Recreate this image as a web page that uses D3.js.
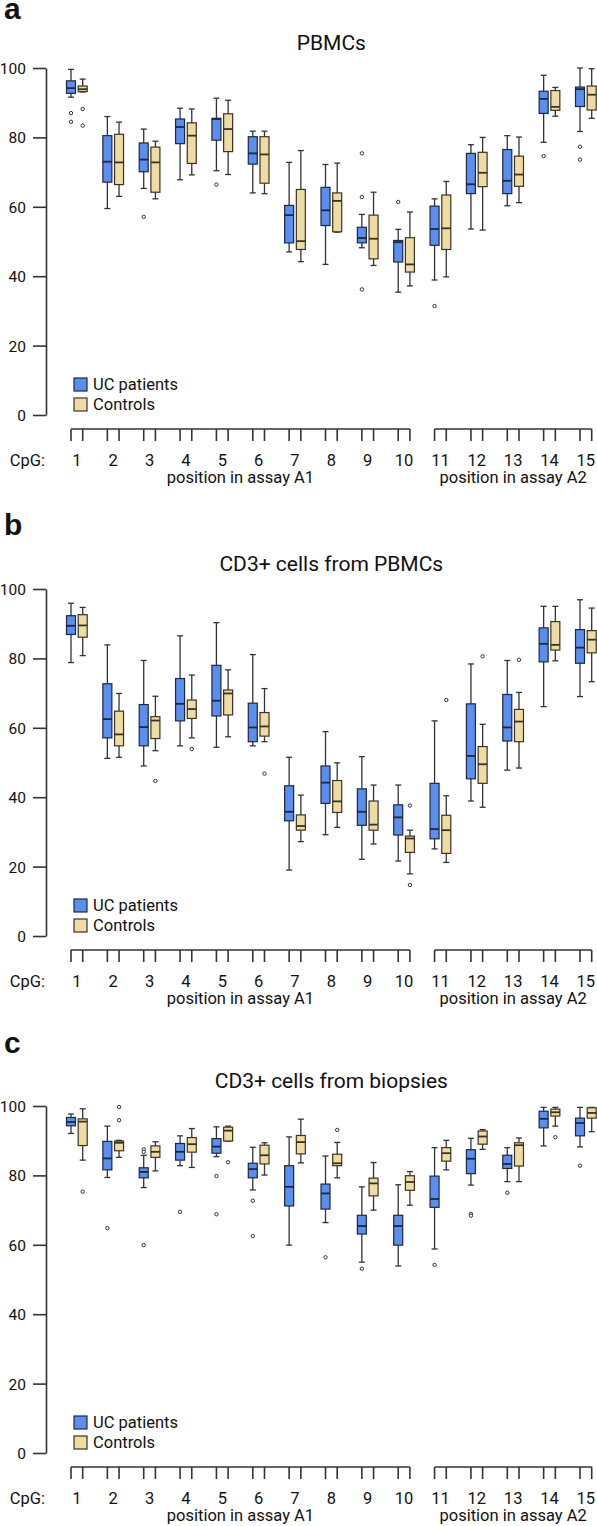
<!DOCTYPE html>
<html>
<head>
<meta charset="utf-8">
<script src="https://cdn.jsdelivr.net/npm/d3@7"></script>
<style>
  html, body { margin: 0; padding: 0; background: #fff; }
  svg { display: block; }
  text { font-family: Roboto, "Noto Sans", sans-serif; fill: #111; }
</style>
</head>
<body>
<div id="chart"></div>
<script>
// ---------- data ----------
const cpgLabels = ["1","2","3","4","5","6","7","8","9","10","11","12","13","14","15"];
const panelLetters = ["a", "b", "c"];
const panelTitles = ["PBMCs", "CD3+ cells from PBMCs", "CD3+ cells from biopsies"];
const groupNames = ["UC patients", "Controls"];
const yTicks = [0, 20, 40, 60, 80, 100];
const assayLabels = ["position in assay A1", "position in assay A2"];

// each entry: [whisker low, Q1, median, Q3, whisker high]
const aUC = [
  [91.6, 92.7, 94.2, 96.3, 99.6], [59.5, 67.1, 73.0, 80.5, 86.0], [65.3, 70.1, 73.6, 78.4, 82.4],
  [67.8, 78.2, 83.0, 85.3, 88.4], [70.4, 79.2, 85.3, 85.5, 91.3], [64.0, 72.3, 75.4, 80.2, 81.8],
  [47.0, 49.6, 57.6, 60.4, 72.8], [43.4, 54.6, 59.0, 65.6, 72.2], [48.2, 49.6, 51.0, 54.1, 57.8],
  [35.4, 44.1, 49.8, 50.3, 53.5], [38.9, 48.9, 53.6, 60.2, 62.3], [53.6, 63.8, 66.5, 75.4, 77.9],
  [60.3, 63.8, 67.5, 76.5, 80.5], [78.6, 86.9, 91.1, 93.3, 97.9], [81.7, 88.9, 93.9, 94.5, 100.0]
];
const aCtrl = [
  [93.1, 93.2, 93.9, 94.8, 96.8], [63.0, 66.4, 72.8, 80.9, 84.4], [62.3, 64.2, 72.8, 77.2, 78.9],
  [69.2, 72.5, 80.5, 84.2, 88.2], [69.3, 75.9, 82.4, 86.8, 90.7], [63.8, 66.8, 75.1, 80.2, 81.8],
  [44.2, 47.7, 50.1, 65.0, 76.2], [52.7, 52.8, 61.7, 64.0, 72.6], [43.1, 45.0, 50.8, 57.6, 64.2],
  [37.2, 41.2, 43.4, 51.1, 58.5], [39.8, 47.7, 53.8, 63.4, 67.3], [53.3, 65.8, 69.8, 75.7, 80.0],
  [61.2, 65.9, 69.3, 74.6, 80.1], [86.1, 87.8, 88.8, 93.5, 94.4], [85.5, 87.9, 92.3, 94.8, 99.8]
];
// outliers: [CpG number, value]
const aUCOut = [[1, 87.0], [1, 84.5], [3, 57.1], [5, 66.4], [9, 75.4], [9, 62.8], [9, 36.2],
  [10, 61.4], [11, 31.4], [14, 74.6], [15, 77.3], [15, 73.6]];
const aCtrlOut = [[1, 88.2], [1, 83.4]];

const bUC = [
  [78.8, 86.9, 89.4, 92.3, 95.9], [51.2, 57.1, 62.5, 72.7, 83.9], [49.0, 54.8, 60.2, 66.7, 79.4],
  [54.8, 62.0, 66.9, 74.2, 86.5], [54.4, 63.4, 67.8, 78.0, 90.3], [54.8, 56.0, 60.1, 67.1, 81.1],
  [19.0, 33.2, 35.8, 43.3, 51.5], [29.2, 38.2, 44.2, 49.0, 58.9], [22.1, 31.9, 35.8, 42.4, 51.7],
  [21.6, 29.1, 34.2, 37.8, 43.5], [25.1, 28.0, 30.8, 44.0, 62.0], [38.9, 45.3, 51.9, 66.9, 78.4],
  [47.8, 56.2, 60.1, 69.6, 79.4], [66.1, 79.0, 84.2, 88.8, 95.0], [69.0, 78.6, 83.1, 88.3, 96.9]
];
const bCtrl = [
  [80.8, 86.1, 89.5, 92.6, 94.7], [51.5, 54.8, 58.1, 64.8, 69.9], [53.4, 56.9, 62.1, 63.2, 69.1],
  [57.1, 62.7, 65.4, 68.0, 75.2], [57.4, 63.7, 69.9, 70.9, 76.7], [56.0, 57.6, 60.4, 64.4, 71.3],
  [27.2, 30.5, 31.7, 34.9, 40.6], [31.3, 35.6, 38.8, 44.8, 49.9], [26.5, 30.5, 32.1, 38.9, 43.5],
  [17.9, 24.1, 28.1, 28.8, 30.5], [21.2, 23.8, 30.5, 34.8, 40.4], [37.1, 44.0, 49.5, 54.6, 61.0],
  [48.4, 56.0, 61.8, 65.3, 70.2], [79.3, 82.4, 83.9, 90.6, 95.0], [73.3, 81.6, 85.4, 88.0, 94.5]
];
const bUCOut = [];
const bCtrlOut = [[3, 44.7], [4, 53.9], [6, 46.8], [10, 37.6], [10, 14.7], [11, 68.0], [12, 80.6], [13, 79.6]];

const cUC = [
  [92.1, 94.3, 95.4, 96.7, 97.7], [79.4, 81.6, 84.9, 89.8, 94.2], [76.5, 79.3, 81.0, 82.2, 85.8],
  [82.8, 84.4, 86.8, 89.2, 91.4], [85.4, 86.4, 88.3, 90.6, 94.0], [75.8, 79.3, 81.8, 83.5, 88.1],
  [59.9, 71.2, 76.7, 82.8, 91.1], [66.4, 70.3, 74.8, 77.5, 85.6], [55.0, 63.1, 65.4, 68.5, 76.7],
  [53.9, 59.9, 65.4, 68.5, 77.3], [58.8, 70.8, 73.2, 79.8, 88.0], [77.2, 80.5, 84.8, 87.4, 90.7],
  [78.2, 82.0, 83.3, 85.8, 88.0], [88.5, 93.7, 96.3, 98.5, 99.6], [88.2, 91.4, 95.1, 96.5, 99.6]
];
const cCtrl = [
  [84.4, 88.6, 95.5, 96.3, 99.2], [85.2, 87.1, 89.4, 89.9, 90.1], [81.3, 85.2, 86.8, 88.5, 89.7],
  [82.3, 86.7, 89.0, 90.9, 93.5], [89.9, 89.9, 92.9, 93.9, 94.2], [80.1, 83.3, 85.8, 88.7, 89.4],
  [83.6, 86.2, 89.6, 91.5, 96.2], [79.3, 82.8, 83.5, 86.1, 89.5], [70.0, 74.1, 77.7, 79.2, 83.7],
  [71.4, 75.7, 78.1, 79.9, 81.1], [81.6, 84.1, 86.4, 88.0, 90.1], [87.5, 89.0, 91.2, 92.8, 93.2],
  [78.2, 82.7, 88.7, 89.4, 90.8], [94.2, 97.1, 98.2, 99.1, 99.6], [92.6, 96.5, 98.0, 99.5, 99.6]
];
const cUCOut = [[2, 64.8], [3, 87.5], [3, 86.8], [3, 59.9], [4, 69.5], [5, 79.8], [5, 68.8],
  [6, 72.7], [6, 62.5], [8, 56.4], [9, 53.1], [11, 54.2], [12, 68.9], [12, 68.4], [13, 75.0], [15, 82.8]];
const cCtrlOut = [[1, 75.3], [2, 99.7], [2, 95.9], [5, 83.8], [8, 93.1], [14, 91.0]];

const panels = [
  { uc: aUC, ctrl: aCtrl, ucOut: aUCOut, ctrlOut: aCtrlOut },
  { uc: bUC, ctrl: bCtrl, ucOut: bUCOut, ctrlOut: bCtrlOut },
  { uc: cUC, ctrl: cCtrl, ucOut: cUCOut, ctrlOut: cCtrlOut }
];

// ---------- layout ----------
const W = 597, H = 1526;
const panelTop = [68, 589, 1106];      // pixel y of value 100
const panelHeight = 347;               // 100 -> 0
const letterY = [19, 535, 1053];
const axisX = 46;
const pairOffset = 11.7;
const boxW = 9;
const capW = 6;
const colors = {
  uc: { fill: "#5b8eef", stroke: "#1c2740" },
  ctrl: { fill: "#eedca4", stroke: "#3a3322" }
};
const axisColor = "#333";
const labelSize = 16.5;

const x = d3.scaleLinear().domain([1, 15]).range([71, 580]);

const svg = d3.select("#chart").append("svg")
  .attr("width", W).attr("height", H);

panels.forEach((p, pi) => {
  const top = panelTop[pi];
  const y0 = top + panelHeight;
  const y = d3.scaleLinear().domain([0, 100]).range([y0, top]);
  const g = svg.append("g");

  // panel letter
  g.append("text").attr("x", 4).attr("y", letterY[pi])
    .attr("font-size", 30).attr("font-weight", "bold")
    .style("font-family", "'Liberation Sans', Arial, sans-serif")
    .text(panelLetters[pi]);

  // title
  g.append("text").attr("x", (x(1) + x(15) + pairOffset) / 2).attr("y", top - 18)
    .attr("text-anchor", "middle").attr("font-size", 21)
    .text(panelTitles[pi]);

  // y axis
  const yAxis = d3.axisLeft(y).tickValues(yTicks).tickSize(13).tickSizeOuter(0).tickPadding(7);
  const ya = g.append("g").attr("transform", `translate(${axisX},0)`).call(yAxis);
  ya.select(".domain").attr("stroke", axisColor).attr("stroke-width", 1.6);
  ya.selectAll(".tick line").attr("stroke", axisColor).attr("stroke-width", 1.6);
  ya.selectAll(".tick text").attr("font-size", 15.5).attr("fill", "#111")
    .style("font-family", "Roboto, sans-serif").attr("dy", "0.35em");

  // boxes
  const groups = [
    { data: p.uc, out: p.ucOut, off: 0, col: colors.uc },
    { data: p.ctrl, out: p.ctrlOut, off: pairOffset, col: colors.ctrl }
  ];
  groups.forEach(gr => {
    gr.data.forEach((d, i) => {
      const cx = x(i + 1) + gr.off;
      const [lo, q1, med, q3, hi] = d;
      const bg = g.append("g");
      // whiskers
      bg.append("line").attr("x1", cx).attr("x2", cx).attr("y1", y(hi)).attr("y2", y(q3))
        .attr("stroke", axisColor).attr("stroke-width", 1.3);
      bg.append("line").attr("x1", cx).attr("x2", cx).attr("y1", y(q1)).attr("y2", y(lo))
        .attr("stroke", axisColor).attr("stroke-width", 1.3);
      bg.append("line").attr("x1", cx - capW / 2).attr("x2", cx + capW / 2).attr("y1", y(hi)).attr("y2", y(hi))
        .attr("stroke", axisColor).attr("stroke-width", 1.3);
      bg.append("line").attr("x1", cx - capW / 2).attr("x2", cx + capW / 2).attr("y1", y(lo)).attr("y2", y(lo))
        .attr("stroke", axisColor).attr("stroke-width", 1.3);
      // box
      bg.append("rect").attr("x", cx - boxW / 2).attr("width", boxW)
        .attr("y", y(q3)).attr("height", Math.max(0.5, y(q1) - y(q3)))
        .attr("fill", gr.col.fill).attr("stroke", gr.col.stroke).attr("stroke-width", 1.2);
      // median
      bg.append("line").attr("x1", cx - boxW / 2).attr("x2", cx + boxW / 2).attr("y1", y(med)).attr("y2", y(med))
        .attr("stroke", gr.col.stroke).attr("stroke-width", 1.8);
    });
    gr.out.forEach(o => {
      g.append("circle").attr("cx", x(o[0]) + gr.off).attr("cy", y(o[1])).attr("r", 1.7)
        .attr("fill", "#fff").attr("stroke", axisColor).attr("stroke-width", 1);
    });
  });

  // legend
  const leg = [{ name: groupNames[0], col: colors.uc, dy: -37 }, { name: groupNames[1], col: colors.ctrl, dy: -17 }];
  leg.forEach(l => {
    g.append("rect").attr("x", 74).attr("y", y0 + l.dy).attr("width", 13).attr("height", 13)
      .attr("fill", l.col.fill).attr("stroke", l.col.stroke).attr("stroke-width", 1.2);
    g.append("text").attr("x", 93).attr("y", y0 + l.dy + 12).attr("font-size", labelSize).text(l.name);
  });

  // bottom CpG position axis (two segments)
  const axY = y0 + 14;
  const segments = [[1, 10], [11, 15]];
  segments.forEach((s, si) => {
    g.append("line").attr("x1", x(s[0])).attr("x2", x(s[1]) + pairOffset)
      .attr("y1", axY).attr("y2", axY).attr("stroke", axisColor).attr("stroke-width", 1.6);
    for (let c = s[0]; c <= s[1]; c++) {
      [0, pairOffset].forEach(off => {
        g.append("line").attr("x1", x(c) + off).attr("x2", x(c) + off)
          .attr("y1", axY).attr("y2", axY + 12).attr("stroke", axisColor).attr("stroke-width", 1.6);
      });
      g.append("text").attr("x", x(c) + pairOffset / 2).attr("y", y0 + 51)
        .attr("text-anchor", "middle").attr("font-size", labelSize).text(cpgLabels[c - 1]);
    }
    g.append("text").attr("x", (x(s[0]) + x(s[1]) + pairOffset) / 2).attr("y", y0 + 68)
      .attr("text-anchor", "middle").attr("font-size", labelSize).text(assayLabels[si]);
  });
  g.append("text").attr("x", 45).attr("y", y0 + 51).attr("text-anchor", "end")
    .attr("font-size", labelSize).text("CpG:");
});
</script>
</body>
</html>
